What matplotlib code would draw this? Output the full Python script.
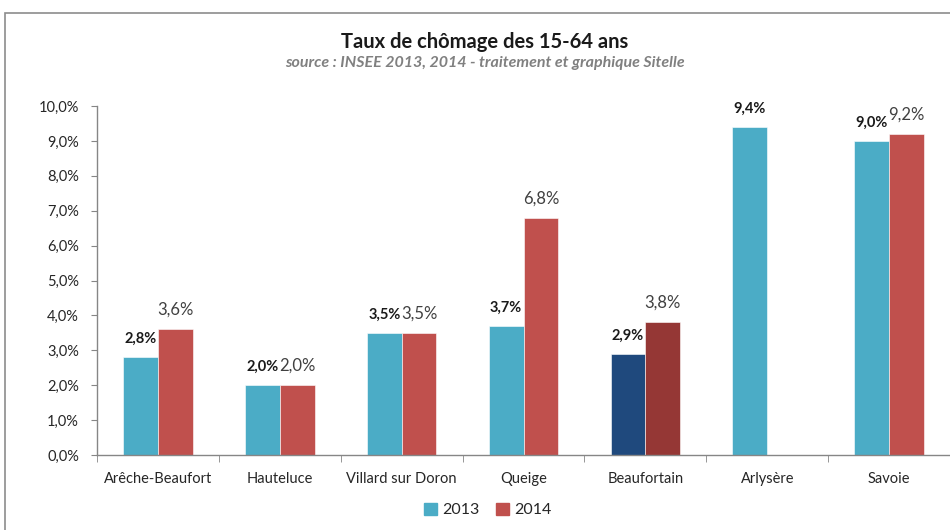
import matplotlib
matplotlib.use("Agg")
import matplotlib.pyplot as plt
from matplotlib.patches import Rectangle
import numpy as np

categories = ["Arêche-Beaufort", "Hauteluce", "Villard sur Doron", "Queige",
              "Beaufortain", "Arlysère", "Savoie"]
taux_2013 = [2.8, 2.0, 3.5, 3.7, 2.9, 9.4, 9.0]
taux_2014 = [3.6, 2.0, 3.5, 6.8, 3.8, None, 9.2]
series_labels = ["2013", "2014"]
y_ticks = [0, 1, 2, 3, 4, 5, 6, 7, 8, 9, 10]

TEAL, RED = "#4BACC6", "#C0504D"
DARK_BLUE, DARK_RED = "#1F497D", "#953735"
FONT = "Lato"

W, H = 950, 530
fig = plt.figure(figsize=(W / 100, H / 100), dpi=100)

# frame around the chart area
fig.patches.append(Rectangle((5 / W, -0.1), 1.2, (H - 13) / H + 0.1,
                             transform=fig.transFigure, fill=False,
                             edgecolor="#8c8c8c", linewidth=1.2, clip_on=False))

ax = fig.add_axes([97 / W, 75 / H, (W - 97) / W, 349 / H])

x = np.arange(len(categories))
bw = 0.285
c13 = [DARK_BLUE if c == "Beaufortain" else TEAL for c in categories]
c14 = [DARK_RED if c == "Beaufortain" else RED for c in categories]

v13 = np.array(taux_2013, dtype=float)
v14 = np.array([np.nan if v is None else v for v in taux_2014], dtype=float)

ax.bar(x - bw / 2, v13, bw, color=c13, edgecolor="white", linewidth=0.4, zorder=2)
ax.bar(x + bw / 2, v14, bw, color=c14, edgecolor="white", linewidth=0.4, zorder=2)

def fmt(v):
    return f"{v:.1f}".replace(".", ",") + "%"

for xi, v in zip(x, v13):
    ax.annotate(fmt(v), (xi - bw / 2, v), xytext=(0, 13), textcoords="offset points",
                ha="center", va="center", fontsize=10.5, fontweight="bold",
                family=FONT, color="#1a1a1a")
for xi, v in zip(x, v14):
    if np.isnan(v):
        continue
    ax.annotate(fmt(v), (xi + bw / 2, v), xytext=(0, 14), textcoords="offset points",
                ha="center", va="center", fontsize=12,
                family=FONT, color="#404040")

ax.set_ylim(0, 10)
ax.set_yticks(y_ticks)
ax.set_yticklabels([fmt(t) for t in y_ticks], family=FONT, fontsize=10.5, color="#262626")
ax.set_xlim(-0.5, 6.5 - 4 / 123)
ax.set_xticks(x)
ax.set_xticklabels(categories, family=FONT, fontsize=10.5, color="#262626")
ax.set_xticks(np.arange(len(categories) + 1) - 0.5, minor=True)
ax.tick_params(axis="x", which="major", length=0, pad=12)
ax.tick_params(axis="x", which="minor", length=5, color="#868686", direction="out")
ax.tick_params(axis="y", length=4, color="#868686", direction="out", pad=9)

for s in ["top", "right"]:
    ax.spines[s].set_visible(False)
for s in ["left", "bottom"]:
    ax.spines[s].set_color("#868686")
    ax.spines[s].set_linewidth(1.0)

fig.text(485 / W, 1 - 42 / H, "Taux de chômage des 15-64 ans", ha="center", va="center",
         family=FONT, fontsize=14.5, fontweight="bold", color="#1a1a1a")
fig.text(485 / W, 1 - 63 / H, "source : INSEE 2013, 2014 - traitement et graphique Sitelle",
         ha="center", va="center", family=FONT, fontsize=11.5, style="italic",
         fontweight="bold", color="#808080")

handles = [Rectangle((0, 0), 1, 1, color=TEAL), Rectangle((0, 0), 1, 1, color=RED)]
fig.legend(handles, series_labels, loc="center", bbox_to_anchor=(488 / W, 1 - 510 / H),
           ncol=2, frameon=False, prop={"family": FONT, "size": 11.5},
           handlelength=0.8, handleheight=0.8, handletextpad=0.35, columnspacing=1.0,
           labelcolor="#262626")

fig.savefig("out.png", dpi=100)
